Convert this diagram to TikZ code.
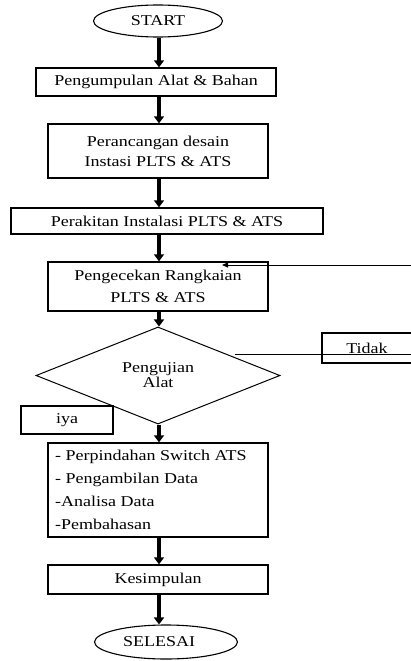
\documentclass[tikz,border=0pt]{standalone}
\usepackage{fontspec}
\setmainfont{Liberation Serif}[FakeStretch=1.2]
\usetikzlibrary{shapes.geometric,arrows.meta}
\begin{document}
\begin{tikzpicture}[x=1pt,y=-1pt,
  every node/.style={font=\fontsize{15}{18}\selectfont, inner sep=0pt},
  box/.style={draw, line width=1.4pt, rectangle, align=center},
  term/.style={draw, line width=1.1pt, ellipse},
  dec/.style={draw, line width=1pt, diamond, align=center},
  flow/.style={line width=3.5pt, -{Triangle[length=7pt,width=10pt]}},
  thinline/.style={line width=0.8pt},
  back/.style={line width=0.8pt, -{Triangle[length=6pt,width=5pt]}}
]
\useasboundingbox (0,0) rectangle (411,661);
\coordinate (ax) at (159,0);
\node[term, minimum width=129pt, minimum height=32pt] (start) at (158,21) {START};
\node[box, minimum width=240pt, minimum height=28pt] (pb) at (156,82) {Pengumpulan Alat \& Bahan};
\node[box, minimum width=220pt, minimum height=54pt, font=\fontsize{15}{20}\selectfont] (design) at (158,151) {Perancangan desain\\Instasi PLTS \& ATS};
\node[box, minimum width=312pt, minimum height=26pt] (rakit) at (167,221) {Perakitan Instalasi PLTS \& ATS};
\node[box, minimum width=220pt, minimum height=49pt, font=\fontsize{15}{22}\selectfont] (cek) at (158,286.5) {Pengecekan Rangkaian\\PLTS \& ATS};
\node[dec, minimum width=244pt, minimum height=85pt, font=\fontsize{15}{15}\selectfont] (uji) at (158,375.5) {Pengujian\\Alat};
\node[box, minimum width=108pt, minimum height=30pt] (tidak) at (376,348) {\hspace*{-18pt}Tidak};
\node[box, minimum width=92pt, minimum height=28pt] (iya) at (67,420) {iya};
\node[box, minimum width=220pt, minimum height=94pt] (list) at (158,490) {};
\node[anchor=west, align=left, font=\fontsize{15}{23}\selectfont] (listtxt) at (55,490) {- Perpindahan Switch ATS\\- Pengambilan Data\\-Analisa Data\\-Pembahasan};
\node[box, minimum width=220pt, minimum height=29pt] (kes) at (158,579.5) {Kesimpulan};
\node[term, minimum width=143pt, minimum height=34pt] (end) at (166,642) {\hspace*{-14pt}SELESAI};
\draw[flow] (start.south -| ax) -- (pb.north -| ax);
\draw[flow] (pb.south -| ax) -- (design.north -| ax);
\draw[flow] (design.south -| ax) -- (rakit.north -| ax);
\draw[flow] (rakit.south -| ax) -- (cek.north -| ax);
\draw[flow] (cek.south -| ax) -- (uji.north -| ax);
\draw[flow] (uji.south -| ax) -- (list.north -| ax);
\draw[flow] (list.south -| ax) -- (kes.north -| ax);
\draw[flow] (kes.south -| ax) -- (end.north -| ax);
\coordinate (tl) at (235,354);
\coordinate (tr) at (415,354);
\draw[thinline] (tl) -- (tr);
\coordinate (fr) at (415,265);
\coordinate (fl) at (222,265);
\draw[back] (fr) -- (fl);
\end{tikzpicture}
\end{document}
